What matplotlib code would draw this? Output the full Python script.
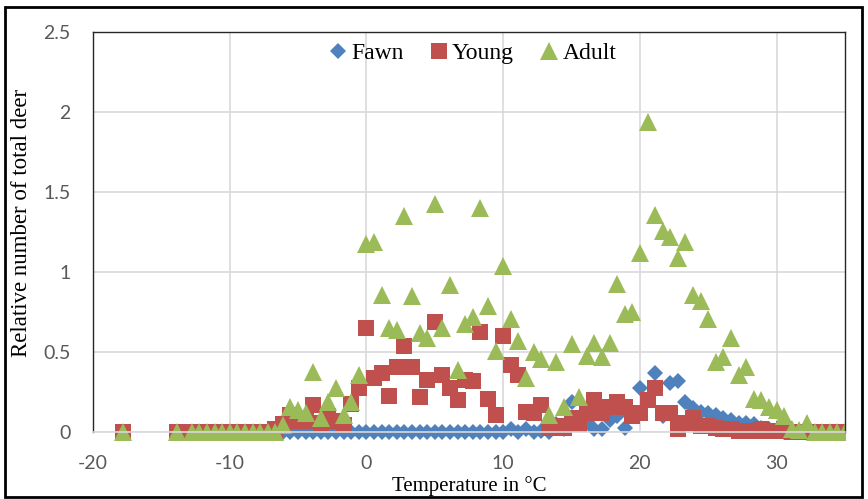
import matplotlib
matplotlib.use("Agg")
import matplotlib.pyplot as plt
from matplotlib.patches import Rectangle

# Temperatures (°C) shared by Young and Adult series
temp_all = [-17.78, -13.89, -12.78, -12.22, -11.67, -11.11, -10.56, -10.00, -9.44, -8.89,
            -8.33, -7.78, -7.22, -6.67, -6.11, -5.56, -5.00, -4.44, -3.89, -3.33,
            -2.78, -2.22, -1.67, -1.11, -0.56, 0.00, 0.56, 1.11, 1.67, 2.22,
            2.78, 3.33, 3.89, 4.44, 5.00, 5.56, 6.11, 6.67, 7.22, 7.78,
            8.33, 8.89, 9.44, 10.00, 10.56, 11.11, 11.67, 12.22, 12.78, 13.33,
            13.89, 14.44, 15.00, 15.56, 16.11, 16.67, 17.22, 17.78, 18.33, 18.89,
            19.44, 20.00, 20.56, 21.11, 21.67, 22.22, 22.78, 23.33, 23.89, 24.44,
            25.00, 25.56, 26.11, 26.67, 27.22, 27.78, 28.33, 28.89, 29.44, 30.00,
            30.56, 31.11, 31.67, 32.22, 32.78, 33.33, 33.89, 34.44, 35.00]

young = [0, 0, 0, 0, 0, 0, 0, 0, 0, 0,
         0, 0, 0, 0.02, 0.05, 0.11, 0.07, 0.07, 0.17, 0.06,
         0.10, 0.07, 0.045, 0.18, 0.28, 0.65, 0.34, 0.37, 0.23, 0.41,
         0.54, 0.41, 0.22, 0.33, 0.69, 0.36, 0.275, 0.20, 0.33, 0.32,
         0.63, 0.21, 0.11, 0.60, 0.42, 0.36, 0.13, 0.12, 0.17, 0.03,
         0.04, 0.03, 0.09, 0.05, 0.12, 0.20, 0.12, 0.16, 0.19, 0.16,
         0.10, 0.12, 0.20, 0.28, 0.12, 0.12, 0.02, 0.06, 0.09, 0.04,
         0.04, 0.03, 0.02, 0.02, 0.01, 0.01, 0.01, 0.02, 0.01, 0.01,
         0.02, 0, 0, 0, 0, 0, 0, 0, 0]

adult = [0, 0, 0, 0, 0, 0, 0, 0, 0, 0,
         0, 0, 0, 0, 0.045, 0.16, 0.14, 0.12, 0.38, 0.09,
         0.19, 0.275, 0.11, 0.19, 0.36, 1.18, 1.19, 0.86, 0.65, 0.64,
         1.35, 0.85, 0.62, 0.59, 1.43, 0.65, 0.92, 0.39, 0.68, 0.72,
         1.40, 0.79, 0.51, 1.04, 0.71, 0.57, 0.34, 0.50, 0.46, 0.11,
         0.44, 0.16, 0.55, 0.22, 0.48, 0.56, 0.47, 0.56, 0.93, 0.74,
         0.75, 1.12, 1.94, 1.36, 1.26, 1.22, 1.09, 1.19, 0.86, 0.82,
         0.71, 0.44, 0.47, 0.59, 0.36, 0.41, 0.21, 0.20, 0.16, 0.14,
         0.10, 0.02, 0.015, 0.056, 0, 0, 0, 0, 0]

# Fawn temperatures (°C)
temp_fawn = [-6.11, -5.56, -5.00, -4.44, -3.89, -3.33, -2.78, -2.22, -1.67, -1.11,
             -0.56, 0.00, 0.56, 1.11, 1.67, 2.22, 2.78, 3.33, 3.89, 4.44,
             5.00, 5.56, 6.11, 6.67, 7.22, 7.78, 8.33, 8.89, 9.44, 10.00,
             10.56, 11.11, 11.67, 12.22, 12.78, 13.33, 13.89, 14.44, 15.00, 15.56,
             16.11, 16.67, 17.22, 17.78, 18.33, 18.89, 19.44, 20.00, 20.56, 21.11,
             21.67, 22.22, 22.78, 23.33, 23.89, 24.44, 25.00, 25.56, 26.11, 26.67,
             27.22, 27.78, 28.33, 28.89, 29.44, 30.00, 30.56, 31.11, 31.67, 32.22,
             32.78, 33.33, 33.89, 34.44, 35.00]

fawn = [0, 0, 0, 0, 0, 0, 0, 0, 0, 0,
        0, 0, 0, 0, 0, 0, 0, 0, 0, 0,
        0, 0, 0, 0, 0, 0, 0, 0, 0, 0,
        0.02, 0, 0.02, 0, 0.01, 0, 0.05, 0.02, 0.19, 0.05,
        0.07, 0.02, 0.02, 0.08, 0.10, 0.03, 0.12, 0.275, 0.20, 0.37,
        0.10, 0.31, 0.32, 0.19, 0.15, 0.13, 0.12, 0.11, 0.09, 0.08,
        0.06, 0.06, 0.05, 0.03, 0.02, 0.01, 0, 0, 0, 0,
        0, 0, 0, 0, 0]

x_ticks = [-20, -10, 0, 10, 20, 30]
x_tick_labels = ["-20", "-10", "0", "10", "20", "30"]
y_ticks = [0, 0.5, 1, 1.5, 2, 2.5]
y_tick_labels = ["0", "0.5", "1", "1.5", "2", "2.5"]

W, H = 868, 499
fig = plt.figure(figsize=(W / 100, H / 100), dpi=100)
ax = fig.add_axes([93 / W, 1 - 432.3 / H, (845 - 93) / W, (432.3 - 32.3) / H])

clip = Rectangle((0, -0.1), 1, 1.2, transform=ax.transAxes, visible=False)
ax.add_patch(clip)

l1, = ax.plot(temp_fawn, fawn, linestyle="none", marker="D", markersize=8,
              color="#4F81BD", markeredgewidth=0, label="Fawn")
l2, = ax.plot(temp_all, young, linestyle="none", marker="s", markersize=12,
              color="#C0504D", markeredgewidth=0, label="Young")
l3, = ax.plot(temp_all, adult, linestyle="none", marker="^", markersize=12.5,
              color="#9BBB59", markeredgewidth=0, label="Adult")
for l in (l1, l2, l3):
    l.set_clip_path(clip)

ax.set_xlim(-20, 35)
ax.set_ylim(0, 2.5)
ax.set_xticks(x_ticks)
ax.set_xticklabels(x_tick_labels)
ax.set_yticks(y_ticks)
ax.set_yticklabels(y_tick_labels)
ax.tick_params(length=0, labelsize=14, labelcolor="#595959")
ax.tick_params(axis="x", pad=16)
ax.tick_params(axis="y", pad=16)
for lab in ax.get_xticklabels() + ax.get_yticklabels():
    lab.set_family(["Lato", "DejaVu Sans"])

ax.grid(True, color="#D9D9D9", linewidth=1.2)
ax.set_axisbelow(True)
for side in ("left", "top", "right"):
    ax.spines[side].set_color("#262626")
    ax.spines[side].set_linewidth(1.0)
ax.spines["bottom"].set_color("#D9D9D9")
ax.spines["bottom"].set_linewidth(1.2)

serif = ["Liberation Serif", "DejaVu Serif"]
ax.set_xlabel("Temperature in °C", family=serif, fontsize=15, va="center")
ax.xaxis.set_label_coords(0.5, (432.3 - 486) / 400)
ax.set_ylabel("Relative number of total deer", family=serif, fontsize=16.5, va="center")
ax.yaxis.set_label_coords((22 - 93) / 752, (432.3 - 223) / 400)

leg = ax.legend(loc="center", bbox_to_anchor=(0.503, 0.948), ncol=3, frameon=False,
                prop={"family": serif, "size": 17}, handletextpad=0.05,
                columnspacing=1.0, handlelength=1.0, borderaxespad=0)

fig.patches.append(Rectangle((5 / W, 1 - 497 / H), 857 / W, 490 / H,
                             transform=fig.transFigure, fill=False,
                             edgecolor="black", linewidth=2))

fig.savefig("out.png", dpi=100)
